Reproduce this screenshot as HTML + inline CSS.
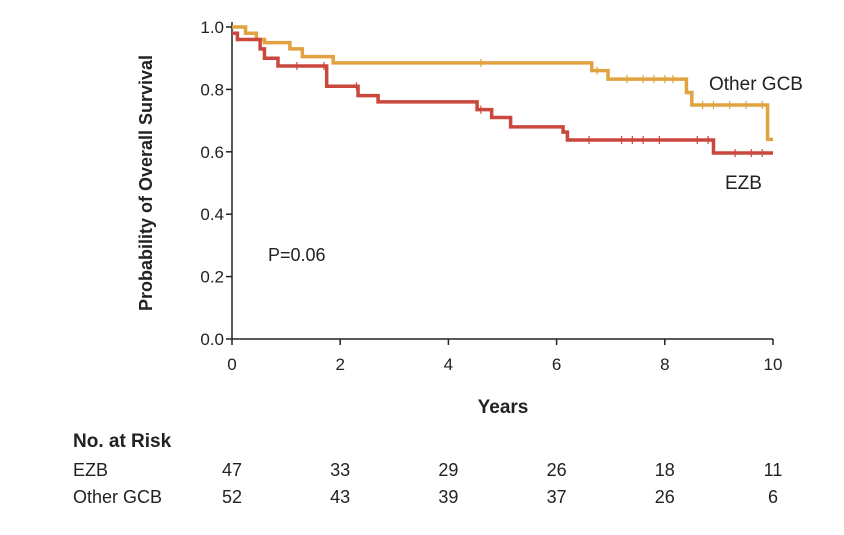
<!DOCTYPE html>
<html><head><meta charset="utf-8"><style>
body{margin:0;background:#fff;width:844px;height:530px;overflow:hidden;font-family:"Liberation Sans",sans-serif;}
svg text{font-family:"Liberation Sans",sans-serif;fill:#222;}
</style></head><body>
<svg id="chart" width="844" height="530"></svg>
<script>
const xTicks=[0,2,4,6,8,10];
const yTicks=[0.0,0.2,0.4,0.6,0.8,1.0];
const gcbTimes=[0,0.25,0.45,0.6,1.07,1.3,1.87,6.65,6.95,8.4,8.5,9.9,10];
const gcbSurv=[1.0,0.98,0.96,0.95,0.93,0.905,0.885,0.86,0.833,0.79,0.75,0.64,0.64];
const gcbCens=[4.6,6.75,7.3,7.6,7.8,8.0,8.15,8.7,8.9,9.2,9.5,9.8];
const ezbTimes=[0,0.1,0.52,0.6,0.85,1.75,2.33,2.7,4.53,4.8,5.15,6.12,6.2,8.9,10];
const ezbSurv=[0.98,0.96,0.93,0.9,0.875,0.81,0.78,0.76,0.735,0.71,0.68,0.663,0.638,0.596,0.596];
const ezbCens=[1.2,1.7,2.3,4.6,6.6,7.2,7.4,7.6,7.9,8.6,8.8,9.3,9.6,9.8];
const riskTimes=[0,2,4,6,8,10];
const riskEZB=[47,33,29,26,18,11];
const riskGCB=[52,43,39,37,26,6];
const NS='http://www.w3.org/2000/svg';
const svg=document.getElementById('chart');
const X=t=>232+t*54.1, Y=v=>339-v*312;
function el(tag,attrs,txt){const e=document.createElementNS(NS,tag);for(const k in attrs)e.setAttribute(k,attrs[k]);if(txt!=null)e.textContent=txt;svg.appendChild(e);return e;}
let e;
e=el('line',{x1:232,y1:22,x2:232,y2:339,stroke:'#222','stroke-width':1.5});


e=el('line',{x1:232,y1:339,x2:773,y2:339,stroke:'#222','stroke-width':1.5});


yTicks.forEach(v=>{
 el('line',{x1:226,y1:Y(v),x2:232,y2:Y(v),stroke:'#222','stroke-width':1.5});
 e=el('text',{x:224,y:Y(v)+6,'text-anchor':'end','font-size':17},v.toFixed(1));
 
 
});
xTicks.forEach(t=>{
 el('line',{x1:X(t),y1:339,x2:X(t),y2:345,stroke:'#222','stroke-width':1.5});
 e=el('text',{x:X(t),y:370,'text-anchor':'middle','font-size':17},t);
 
 
});
e=el('text',{x:0,y:0,transform:'translate(152,183) rotate(-90)','text-anchor':'middle','font-size':18,'font-weight':'bold'},'Probability of Overall Survival');


e=el('text',{x:503,y:413,'text-anchor':'middle','font-size':19,'font-weight':'bold'},'Years');


function step(ts,ss){let d='M'+X(ts[0])+','+Y(ss[0]);for(let i=1;i<ts.length;i++){d+=' H'+X(ts[i])+' V'+Y(ss[i]);}return d;}
function survAt(ts,ss,t){let v=ss[0];for(let i=0;i<ts.length;i++){if(ts[i]<=t)v=ss[i];}return v;}
function series(ts,ss,cens,color,name){
 e=el('path',{d:step(ts,ss),fill:'none',stroke:color,'stroke-width':3.5});
 
 
 cens.forEach(c=>{const y=Y(survAt(ts,ss,c));
  e=el('line',{x1:X(c),y1:y-4,x2:X(c),y2:y+4,stroke:color,'stroke-width':1.2});
  
  
 });
}
series(gcbTimes,gcbSurv,gcbCens,'#e1a23f','other-gcb');
series(ezbTimes,ezbSurv,ezbCens,'#c9473d','ezb');
e=el('text',{x:709,y:90,'font-size':19},'Other GCB');


e=el('text',{x:725,y:189,'font-size':19},'EZB');


e=el('text',{x:268,y:261,'font-size':18},'P=0.06');


e=el('text',{x:73,y:447,'font-size':19,'font-weight':'bold'},'No. at Risk');


e=el('text',{x:73,y:476,'font-size':18},'EZB');


e=el('text',{x:73,y:503,'font-size':18},'Other GCB');


riskTimes.forEach((t,i)=>{
 e=el('text',{x:X(t),y:476,'text-anchor':'middle','font-size':18},riskEZB[i]);
 
 
 e=el('text',{x:X(t),y:503,'text-anchor':'middle','font-size':18},riskGCB[i]);
 
 
});
</script>
</body></html>
